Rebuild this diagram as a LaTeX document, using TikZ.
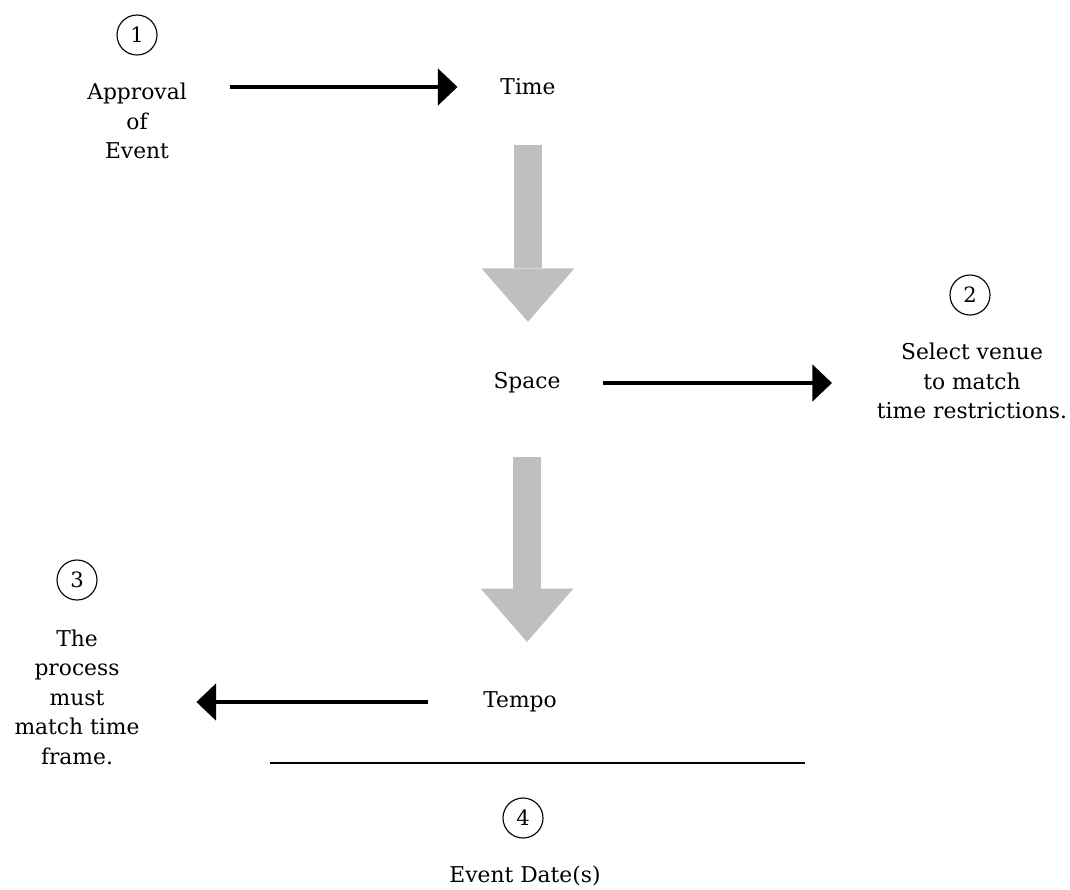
\documentclass[tikz,border=0pt]{standalone}
\usepackage{fontspec}
\setmainfont{DejaVu Serif}
\usetikzlibrary{arrows.meta}
\definecolor{arrowgray}{RGB}{191,191,194}
\begin{document}
\begin{tikzpicture}[x=0.025cm, y=-0.025cm,
    txt/.style={align=center, font=\fontsize{15.5}{21}\selectfont},
    num/.style={circle, draw, line width=0.8pt, minimum size=1cm, inner sep=0pt, font=\fontsize{15}{15}\selectfont},
    flow/.style={line width=2.6pt, -{Triangle[length=14pt,width=26pt]}},
    bigflow/.style={arrowgray, line width=20pt, -{Triangle[length=38pt,width=66pt,line width=0pt]}}]
    \useasboundingbox (0,0) rectangle (1070,889);
    \node[num] (n1) at (137,35) {1};
    \node[num] (n2) at (970,295) {2};
    \node[num] (n3) at (77,580) {3};
    \node[num] (n4) at (523,818) {4};
    \node[txt] (approval) at (137,121) {Approval\\of\\Event};
    \node[txt] (time) at (528,87) {Time};
    \node[txt] (space) at (527,383) {Space};
    \node[txt] (venue) at (972,381) {Select venue\\to match\\time restrictions.};
    \node[txt] (tempo) at (520,702) {Tempo};
    \node[txt] (process) at (77,697) {The\\process\\must\\match time\\frame.};
    \node[txt] (date) at (525,876) {Event Date(s)};
    \draw[flow, shorten <=0.95cm, shorten >=0.95cm] (time.west -| approval.east) -- (time.west);
    \draw[flow, shorten <=0.95cm, shorten >=1cm] (space.east) -- (space.east -| venue.west);
    \draw[flow, shorten <=1.25cm, shorten >=1.3cm] (tempo.west) -- (tempo.west -| process.east);
    \draw[bigflow, shorten <=1.45cm, shorten >=1.53cm] (time.center) -- (time.center |- space.center);
    \draw[bigflow, shorten <=1.85cm, shorten >=1.5cm] (space.center) -- (space.center |- tempo.center);
    \coordinate (lineL) at (270,763);
    \coordinate (lineR) at (805,763);
    \draw[line width=1.4pt] (lineL) -- (lineR);
\end{tikzpicture}
\end{document}
